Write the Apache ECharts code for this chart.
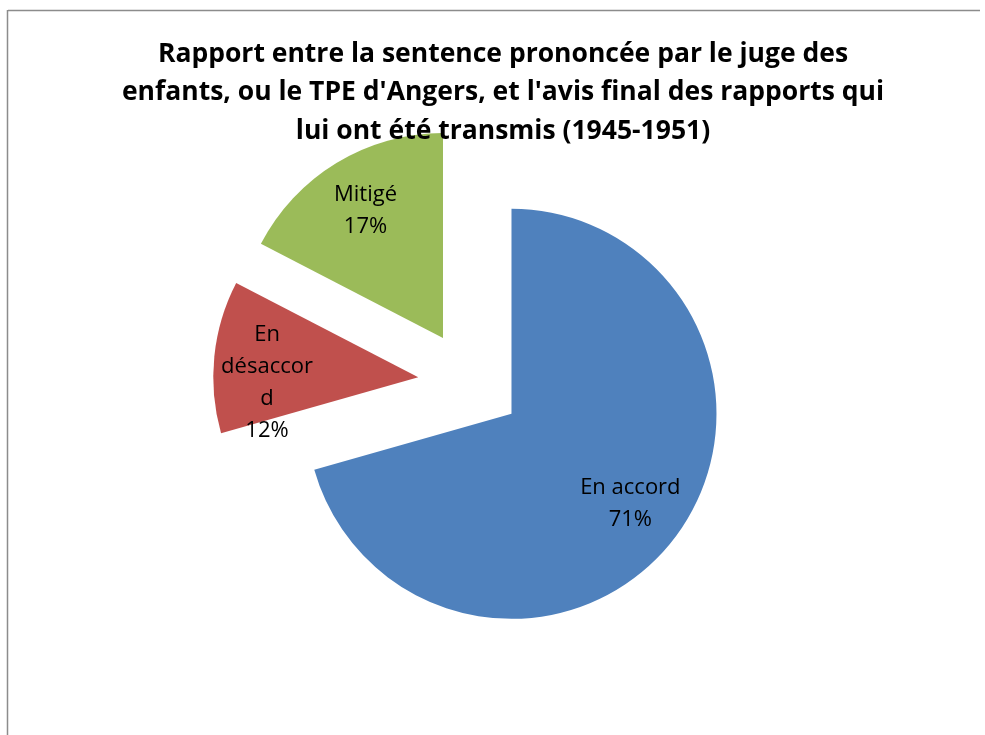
<!DOCTYPE html>
<html>
<head>
<meta charset="utf-8">
<script src="https://cdn.jsdelivr.net/npm/echarts@6/dist/echarts.min.js"></script>
<style>
  html, body { margin: 0; padding: 0; background: #fff; }
  #main { width: 985px; height: 735px; }
</style>
</head>
<body>
<div id="main"></div>
<script>
// données (parts estimées d'après les angles)
var categories = ['En accord', 'En désaccord', 'Mitigé'];
var values = [70.6, 12, 17.4];
// texte des étiquettes (coupure comme dans l'original)
var labelNames = ['En accord', 'En\ndésaccor\nd', 'Mitigé'];
var colors = ['#4F81BD', '#C0504D', '#9BBB59'];

var myChart = echarts.init(document.getElementById('main'));

var center = [470, 382.5];
var offset = 52;

var pieData = categories.map(function (c, i) {
  return { name: c, value: values[i], selected: true, itemStyle: { color: colors[i] } };
});
var labelData = categories.map(function (c, i) {
  return { name: labelNames[i], value: values[i], selected: true };
});

var option = {
  animation: false,
  title: {
    text: "Rapport entre la sentence prononcée par le juge des\nenfants, ou le TPE d'Angers, et l'avis final des rapports qui\nlui ont été transmis (1945-1951)",
    left: 498,
    textAlign: 'center',
    top: 30,
    textStyle: {
      fontFamily: 'Open Sans',
      fontWeight: 'bold',
      fontSize: 26.5,
      lineHeight: 38.5,
      color: '#000'
    }
  },
  graphic: [
    { type: 'line', shape: { x1: 8, y1: 10.5, x2: 980, y2: 10.5 }, style: { stroke: '#8c8c8c', lineWidth: 1.5 } },
    { type: 'line', shape: { x1: 7.5, y1: 10, x2: 7.5, y2: 735 }, style: { stroke: '#8c8c8c', lineWidth: 1.5 } }
  ],
  series: [
    {
      type: 'pie',
      center: center,
      radius: 205,
      startAngle: 90,
      clockwise: true,
      selectedMode: 'multiple',
      selectedOffset: offset,
      silent: true,
      label: { show: false },
      labelLine: { show: false },
      data: pieData
    },
    {
      // série transparente pour placer les étiquettes
      type: 'pie',
      center: center,
      radius: [87, 205],
      startAngle: 90,
      clockwise: true,
      selectedMode: 'multiple',
      selectedOffset: offset,
      percentPrecision: 0,
      silent: true,
      itemStyle: { color: 'transparent' },
      label: {
        show: true,
        position: 'inside',
        formatter: '{b}\n{d}%',
        fontFamily: 'Open Sans',
        fontSize: 22,
        lineHeight: 32,
        color: '#000'
      },
      // l'étiquette rouge est un peu plus basse dans l'original
      labelLayout: function (p) {
        return p.dataIndex === 1 ? { dx: -3, dy: 20 } : {};
      },
      labelLine: { show: false },
      data: labelData
    }
  ]
};

myChart.setOption(option);
</script>
</body>
</html>
